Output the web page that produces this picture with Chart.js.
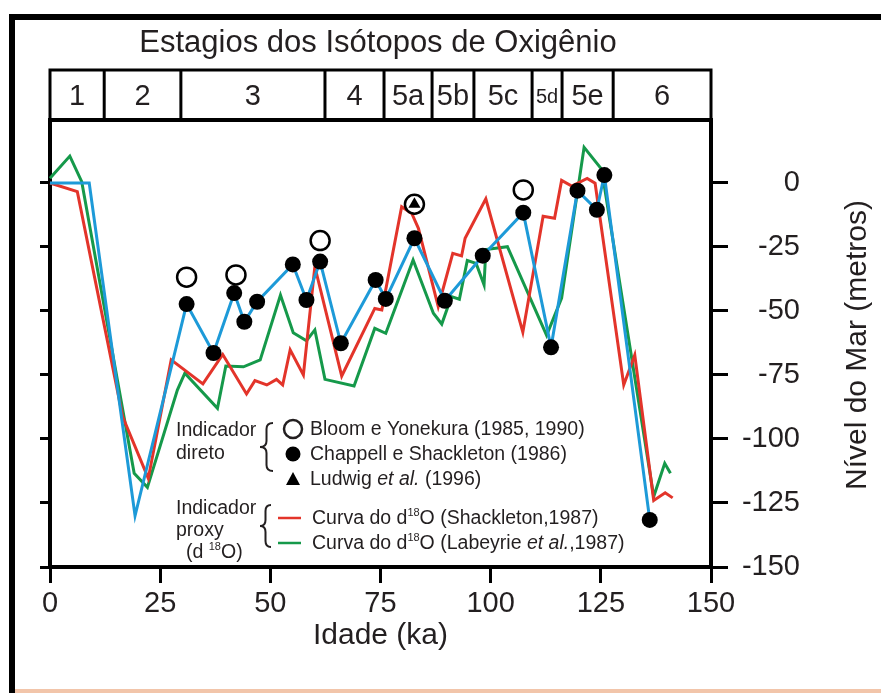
<!DOCTYPE html>
<html>
<head>
<meta charset="utf-8">
<script src="https://cdn.jsdelivr.net/npm/chart.js@4/dist/chart.umd.min.js"></script>
<style>
  html, body { margin: 0; padding: 0; background: #ffffff; }
  canvas { display: block; }
</style>
</head>
<body>
<canvas id="chart" width="881" height="693"></canvas>
<script>
// ---------- data ----------
// Oxygen isotope stages and the ages (ka) that bound them
const stageNames  = ['1', '2', '3', '4', '5a', '5b', '5c', '5d', '5e', '6'];
const stageBounds = [0, 12.3, 29.7, 62.4, 75.8, 86.7, 96.2, 109.4, 116.2, 127.8, 150];

const ageTicks   = [0, 25, 50, 75, 100, 125, 150];
const levelTicks = [0, -25, -50, -75, -100, -125, -150];

// Chappell e Shackleton (1986)
const chappellAge   = [31.0, 37.1, 41.8, 44.1, 47.0, 55.1, 58.2, 61.3, 66.0, 73.9, 76.2, 82.7, 89.6, 98.2, 107.4, 113.7, 119.7, 124.1, 125.8, 136.1];
const chappellLevel = [-47.3, -66.4, -43, -54.2, -46.4, -31.8, -45.7, -30.7, -62.6, -37.9, -45.3, -21.6, -46, -28.4, -11.6, -64.2, -3, -10.5, 3.1, -131.6];
// youngest part of the curve joined to the Chappell points
const curveLeadAge   = [0, 8.9, 19.3];
const curveLeadLevel = [0, 0, -130];

// Bloom e Yonekura (1985, 1990)
const bloomAge   = [31.0, 42.2, 61.3, 82.7, 107.4];
const bloomLevel = [-36.8, -35.9, -22.5, -8.3, -2.7];

// Ludwig et al. (1996)
const ludwigAge   = [82.7];
const ludwigLevel = [-8.3];

// d18O curve, Shackleton (1987)
const shackletonAge   = [0, 6.2, 16.5, 22.3, 27.5, 34.7, 39.2, 44.6, 46.5, 49.2, 51.4, 52.8, 54.5, 57.5, 60.1, 66.2, 73.7, 75.3, 79.8, 82.1, 83.6, 88.1, 91.4, 93.4, 94.2, 98.9, 107.3, 111.9, 114.5, 116.1, 118.4, 121.9, 123.7, 130.2, 132.7, 137.0, 139.6, 141.3];
const shackletonLevel = [0, -3.4, -91.3, -115.4, -69.1, -78.5, -67, -82.4, -77.2, -78.9, -76.7, -78.9, -65.2, -75, -32.7, -75.4, -49, -49.6, -9.3, -11.9, -17.7, -48.3, -27.5, -28.5, -21.6, -6.2, -58.3, -13, -13.8, 1, -1.2, 1.8, -0.1, -78.9, -67.2, -124, -121, -123];

// d18O curve, Labeyrie et al. (1987)
const labeyrieAge   = [0, 4.5, 7.2, 19.1, 22.1, 28.9, 30.6, 38.0, 39.9, 43.9, 47.7, 52.3, 55.2, 58.2, 60.1, 62.4, 69.0, 73.7, 76.2, 82.4, 87.0, 88.9, 91.1, 92.9, 94.7, 96.7, 98.5, 98.9, 103.8, 112.7, 116.1, 121.2, 125.2, 137.0, 139.5, 140.8];
const labeyrieLevel = [1.8, 10.5, 0.5, -113.4, -118.9, -80.9, -74.3, -88, -71.5, -71.8, -69.1, -43.8, -58.5, -61.6, -57.4, -76.7, -79.3, -56.8, -58.7, -30.1, -50.9, -55.1, -44.4, -45.4, -30.3, -31.4, -39.8, -26, -24.9, -59.5, -45, 13.9, 5.3, -122.5, -109.5, -113.4];

// ---------- styling ----------
const FONT  = '"Liberation Sans", Arial, Helvetica, sans-serif';
const INK   = '#231f20';
const RED   = '#e3342a';
const GREEN = '#15994a';
const BLUE  = '#1d9ad8';
const Y_TOP = 24.6;   // level at the top of the plotting area
const KEY   = 19.5;   // key text size

const pts = (xs, ys) => xs.map((x, i) => ({ x: x, y: ys[i] }));
const setTicks = list => scale => { scale.ticks = list.map(v => ({ value: v })); };

// ---------- drawing helpers ----------
function brace(ctx, x, y1, y2, w) {
  const ym = (y1 + y2) / 2, r = 6, xm = x + w / 2;
  ctx.beginPath();
  ctx.moveTo(x + w, y1);
  ctx.quadraticCurveTo(xm, y1, xm, y1 + r);
  ctx.lineTo(xm, ym - r);
  ctx.quadraticCurveTo(xm, ym, x, ym);
  ctx.quadraticCurveTo(xm, ym, xm, ym + r);
  ctx.lineTo(xm, y2 - r);
  ctx.quadraticCurveTo(xm, y2, x + w, y2);
  ctx.stroke();
}

// draws a run of text pieces: [text, size, style, rise]
function runs(ctx, x, y, parts) {
  ctx.textAlign = 'left';
  ctx.textBaseline = 'middle';
  for (const [t, size, style, rise] of parts) {
    ctx.font = `${style || ''} ${size}px ${FONT}`;
    ctx.fillText(t, x, y - (rise || 0));
    x += ctx.measureText(t).width;
  }
}

const decorations = {
  id: 'decorations',
  beforeDraw(chart) {
    const ctx = chart.ctx;
    ctx.save();
    ctx.fillStyle = '#ffffff';
    ctx.fillRect(0, 0, chart.width, chart.height);
    ctx.restore();
  },
  afterDraw(chart) {
    const ctx = chart.ctx;
    const xs = chart.scales.x;
    const area = chart.chartArea;
    ctx.save();

    // page frame
    ctx.fillStyle = '#000';
    ctx.fillRect(9, 14, 872, 6);
    ctx.fillRect(9, 14, 6, 679);
    ctx.fillStyle = '#f2c5aa';
    ctx.fillRect(15, 689, 866, 4);

    // title
    ctx.fillStyle = INK;
    ctx.font = `31px ${FONT}`;
    ctx.textAlign = 'center';
    ctx.textBaseline = 'middle';
    ctx.fillText('Estagios dos Isótopos de Oxigênio', 378, 43);

    // stage strip
    const top = 70, bottom = area.top;
    ctx.strokeStyle = '#000';
    ctx.lineWidth = 3;
    ctx.strokeRect(area.left, top, area.right - area.left, bottom - top);
    ctx.lineWidth = 4;
    ctx.beginPath();
    ctx.moveTo(area.left - 2, bottom);
    ctx.lineTo(area.right + 2, bottom);
    ctx.stroke();
    ctx.lineWidth = 3;
    for (let i = 1; i < stageBounds.length - 1; i++) {
      const px = xs.getPixelForValue(stageBounds[i]);
      ctx.beginPath();
      ctx.moveTo(px, top);
      ctx.lineTo(px, bottom);
      ctx.stroke();
    }
    ctx.fillStyle = INK;
    ctx.textAlign = 'center';
    ctx.textBaseline = 'middle';
    for (let i = 0; i < stageNames.length; i++) {
      const a = xs.getPixelForValue(stageBounds[i]);
      const b = xs.getPixelForValue(stageBounds[i + 1]);
      ctx.font = (stageNames[i] === '5d' ? 20 : 29) + `px ${FONT}`;
      ctx.fillText(stageNames[i], (a + b) / 2, (top + bottom) / 2 + 2);
    }

    // right-hand axis title
    ctx.save();
    ctx.translate(858, 345);
    ctx.rotate(-Math.PI / 2);
    ctx.font = `30px ${FONT}`;
    ctx.fillText('Nível do Mar (metros)', 0, 0);
    ctx.restore();

    // key
    ctx.fillStyle = INK;
    runs(ctx, 176, 431, [['Indicador', KEY]]);
    runs(ctx, 176, 454, [['direto', KEY]]);
    runs(ctx, 176, 509, [['Indicador', KEY]]);
    runs(ctx, 176, 531, [['proxy', KEY]]);
    runs(ctx, 186, 553, [['(d ', KEY], ['18', 11, '', 6], ['O)', KEY]]);

    ctx.strokeStyle = INK;
    ctx.lineWidth = 2;
    brace(ctx, 260, 423, 471, 13);
    brace(ctx, 260, 505, 547, 11);

    // symbols
    ctx.lineWidth = 2.5;
    ctx.fillStyle = '#fff';
    ctx.beginPath(); ctx.arc(293, 429, 9, 0, Math.PI * 2); ctx.fill(); ctx.stroke();
    ctx.fillStyle = '#000';
    ctx.beginPath(); ctx.arc(293, 454, 7.5, 0, Math.PI * 2); ctx.fill();
    ctx.beginPath();
    ctx.moveTo(293, 472); ctx.lineTo(300, 485); ctx.lineTo(286, 485); ctx.closePath(); ctx.fill();

    ctx.lineWidth = 2.5;
    ctx.strokeStyle = RED;
    ctx.beginPath(); ctx.moveTo(278, 518); ctx.lineTo(301, 518); ctx.stroke();
    ctx.strokeStyle = GREEN;
    ctx.beginPath(); ctx.moveTo(278, 543); ctx.lineTo(301, 543); ctx.stroke();

    ctx.fillStyle = INK;
    runs(ctx, 310, 430, [['Bloom e Yonekura (1985, 1990)', KEY]]);
    runs(ctx, 310, 455, [['Chappell e Shackleton (1986)', KEY]]);
    runs(ctx, 310, 480, [['Ludwig ', KEY], ['et al.', KEY, 'italic'], [' (1996)', KEY]]);
    runs(ctx, 312, 519, [['Curva do d', KEY], ['18', 11, '', 6], ['O (Shackleton,1987)', KEY]]);
    runs(ctx, 312, 544, [['Curva do d', KEY], ['18', 11, '', 6], ['O (Labeyrie ', KEY], ['et al.', KEY, 'italic'], [',1987)', KEY]]);

    ctx.restore();
  }
};

const axisGrid = len => ({ drawOnChartArea: false, drawTicks: true, tickLength: len, color: '#000', lineWidth: 3 });
const axisBorder = { display: true, color: '#000', width: 4 };

new Chart(document.getElementById('chart'), {
  type: 'scatter',
  data: {
    datasets: [
      { label: 'Ludwig et al. (1996)', data: pts(ludwigAge, ludwigLevel),
        pointStyle: 'triangle', pointRadius: 7, backgroundColor: '#000', borderWidth: 0, order: 1 },
      { label: 'Bloom e Yonekura (1985, 1990)', data: pts(bloomAge, bloomLevel),
        pointRadius: 9.5, backgroundColor: '#fff', borderColor: '#000', borderWidth: 2.5, order: 2 },
      { label: 'Chappell e Shackleton (1986)', data: pts(chappellAge, chappellLevel),
        pointRadius: 8, backgroundColor: '#000', borderWidth: 0, order: 3 },
      { label: 'Chappell curve', data: pts(curveLeadAge.concat(chappellAge), curveLeadLevel.concat(chappellLevel)),
        showLine: true, borderColor: BLUE, borderWidth: 3, pointRadius: 0, order: 4, clip: false },
      { label: 'Curva do d18O (Shackleton,1987)', data: pts(shackletonAge, shackletonLevel),
        showLine: true, borderColor: RED, borderWidth: 3, pointRadius: 0, order: 5, clip: false },
      { label: 'Curva do d18O (Labeyrie et al.,1987)', data: pts(labeyrieAge, labeyrieLevel),
        showLine: true, borderColor: GREEN, borderWidth: 3, pointRadius: 0, order: 6, clip: false }
    ]
  },
  options: {
    responsive: false,
    devicePixelRatio: 1,
    animation: false,
    events: [],
    layout: { padding: { left: 40, top: 120, right: 81, bottom: 0 } },
    plugins: { legend: { display: false }, tooltip: { enabled: false }, title: { display: false } },
    scales: {
      x: {
        type: 'linear', position: 'bottom', min: 0, max: 150,
        afterBuildTicks: setTicks(ageTicks),
        afterFit: s => { s.height = 126; },
        grid: axisGrid(16), border: axisBorder,
        ticks: { color: INK, font: { family: FONT, size: 29 }, padding: 4, maxRotation: 0, autoSkip: false },
        title: { display: true, text: 'Idade (ka)', color: INK, font: { family: FONT, size: 30 }, padding: { top: 0, bottom: 39 } }
      },
      y: {
        type: 'linear', position: 'right', min: -150, max: Y_TOP,
        afterBuildTicks: setTicks(levelTicks),
        afterFit: s => { s.width = 89; },
        grid: axisGrid(17), border: axisBorder,
        ticks: { color: INK, font: { family: FONT, size: 29 }, padding: 12, crossAlign: 'far' }
      },
      yLeft: {
        type: 'linear', position: 'left', min: -150, max: Y_TOP,
        afterBuildTicks: setTicks(levelTicks),
        afterFit: s => { s.width = 10; },
        grid: axisGrid(10), border: axisBorder,
        ticks: { display: false }
      }
    }
  },
  plugins: [decorations]
});
</script>
</body>
</html>
